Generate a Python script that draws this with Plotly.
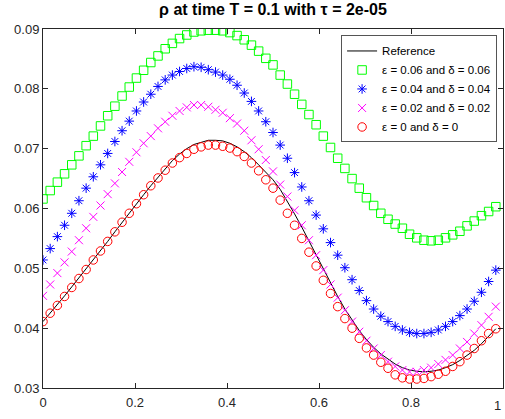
import plotly.graph_objects as go

N = 64
x_grid = [k / N for k in range(N)]

reference = [
    0.0411, 0.0425, 0.0439, 0.0454, 0.0469, 0.0484, 0.0499, 0.0514,
    0.0530, 0.0545, 0.0561, 0.0577, 0.0592, 0.0608, 0.0623, 0.0638,
    0.0652, 0.0667, 0.0680, 0.0691, 0.0700, 0.0707, 0.0711, 0.0714,
    0.0714, 0.0713, 0.0709, 0.0703, 0.0695, 0.0685, 0.0673, 0.0660,
    0.0648, 0.0632, 0.0612, 0.0591, 0.0569, 0.0546, 0.0522, 0.0498,
    0.0475, 0.0453, 0.0432, 0.0413, 0.0396, 0.0381, 0.0368, 0.0357,
    0.0348, 0.0340, 0.0334, 0.0330, 0.0328, 0.0327, 0.0328, 0.0330,
    0.0334, 0.0339, 0.0346, 0.0354, 0.0363, 0.0374, 0.0386, 0.0399,
]

eps_006 = [
    0.0616, 0.0630, 0.0644, 0.0658, 0.0673, 0.0688, 0.0705, 0.0721,
    0.0738, 0.0755, 0.0771, 0.0788, 0.0803, 0.0818, 0.0831, 0.0844,
    0.0855, 0.0867, 0.0876, 0.0884, 0.0890, 0.0895, 0.0897, 0.0898,
    0.0898, 0.0897, 0.0894, 0.0889, 0.0882, 0.0873, 0.0863, 0.0851,
    0.0840, 0.0823, 0.0808, 0.0791, 0.0774, 0.0757, 0.0740, 0.0721,
    0.0702, 0.0684, 0.0667, 0.0650, 0.0634, 0.0618, 0.0605, 0.0592,
    0.0582, 0.0574, 0.0567, 0.0557, 0.0551, 0.0547, 0.0546, 0.0547,
    0.0551, 0.0556, 0.0562, 0.0571, 0.0579, 0.0588, 0.0595, 0.0603,
]

eps_004 = [
    0.0514, 0.0533, 0.0553, 0.0572, 0.0592, 0.0613, 0.0634, 0.0653,
    0.0673, 0.0692, 0.0712, 0.0730, 0.0746, 0.0763, 0.0778, 0.0791,
    0.0804, 0.0815, 0.0823, 0.0829, 0.0834, 0.0837, 0.0836, 0.0832,
    0.0828, 0.0823, 0.0816, 0.0806, 0.0793, 0.0779, 0.0763, 0.0745,
    0.0727, 0.0706, 0.0684, 0.0660, 0.0636, 0.0613, 0.0589, 0.0566,
    0.0543, 0.0522, 0.0501, 0.0481, 0.0463, 0.0446, 0.0432, 0.0420,
    0.0411, 0.0403, 0.0397, 0.0393, 0.0391, 0.0391, 0.0393, 0.0397,
    0.0403, 0.0411, 0.0421, 0.0432, 0.0445, 0.0460, 0.0478, 0.0497,
]

eps_002 = [
    0.0454, 0.0473, 0.0492, 0.0510, 0.0528, 0.0547, 0.0567, 0.0586,
    0.0605, 0.0624, 0.0642, 0.0661, 0.0678, 0.0694, 0.0709, 0.0721,
    0.0734, 0.0745, 0.0755, 0.0763, 0.0769, 0.0773, 0.0773, 0.0770,
    0.0765, 0.0760, 0.0751, 0.0742, 0.0730, 0.0714, 0.0699, 0.0681,
    0.0662, 0.0640, 0.0620, 0.0597, 0.0572, 0.0547, 0.0522, 0.0497,
    0.0473, 0.0451, 0.0430, 0.0411, 0.0394, 0.0379, 0.0366, 0.0355,
    0.0344, 0.0336, 0.0330, 0.0327, 0.0327, 0.0330, 0.0334, 0.0340,
    0.0347, 0.0355, 0.0366, 0.0377, 0.0391, 0.0405, 0.0419, 0.0436,
]

eps_000 = [
    0.0411, 0.0425, 0.0438, 0.0453, 0.0468, 0.0483, 0.0498, 0.0514,
    0.0529, 0.0545, 0.0561, 0.0577, 0.0592, 0.0608, 0.0623, 0.0638,
    0.0651, 0.0664, 0.0676, 0.0685, 0.0692, 0.0699, 0.0703, 0.0706,
    0.0706, 0.0704, 0.0701, 0.0695, 0.0687, 0.0676, 0.0663, 0.0648,
    0.0634, 0.0614, 0.0592, 0.0572, 0.0550, 0.0527, 0.0504, 0.0480,
    0.0458, 0.0436, 0.0416, 0.0400, 0.0383, 0.0367, 0.0355, 0.0343,
    0.0333, 0.0322, 0.0317, 0.0315, 0.0315, 0.0316, 0.0319, 0.0323,
    0.0328, 0.0336, 0.0344, 0.0355, 0.0366, 0.0379, 0.0391, 0.0399,
]

x_ticks = [0, 0.2, 0.4, 0.6, 0.8, 1]
x_tick_labels = ["0", "0.2", "0.4", "0.6", "0.8", "1"]
y_ticks = [0.03, 0.04, 0.05, 0.06, 0.07, 0.08, 0.09]
y_tick_labels = ["0.03", "0.04", "0.05", "0.06", "0.07", "0.08", "0.09"]

FONT = "Liberation Sans, Arial, Helvetica, sans-serif"
AX = "#262626"

fig = go.Figure()
fig.add_trace(go.Scatter(x=x_grid, y=reference, mode="lines", name="Reference",
                         line=dict(color="#000000", width=1)))
fig.add_trace(go.Scatter(x=x_grid, y=eps_006, mode="markers", name="ε = 0.06 and δ = 0.06",
                         marker=dict(symbol="square-open", size=8.5, color="#00ff00",
                                     line=dict(width=1, color="#00ff00"))))
fig.add_trace(go.Scatter(x=x_grid, y=eps_004, mode="markers", name="ε = 0.04 and δ = 0.04",
                         marker=dict(symbol="asterisk-open", size=8, color="#0000ff",
                                     line=dict(width=1, color="#0000ff"))))
fig.add_trace(go.Scatter(x=x_grid, y=eps_002, mode="markers", name="ε = 0.02 and δ = 0.02",
                         marker=dict(symbol="x-thin-open", size=8, color="#ff00ff",
                                     line=dict(width=1, color="#ff00ff"))))
fig.add_trace(go.Scatter(x=x_grid, y=eps_000, mode="markers", name="ε = 0 and δ = 0",
                         marker=dict(symbol="circle-open", size=8.5, color="#ff0000",
                                     line=dict(width=1, color="#ff0000"))))

# the last x tick label would overflow the page edge; draw it right-aligned at the axis end
fig.add_annotation(text=x_tick_labels[-1], x=1, xref="paper", xanchor="right",
                   y=0, yref="paper", yanchor="middle", yshift=-17, xshift=0,
                   showarrow=False, font=dict(family=FONT, size=13, color=AX))

fig.update_layout(
    width=505, height=419,
    margin=dict(l=43, r=2, t=29, b=31, autoexpand=False),
    paper_bgcolor="white", plot_bgcolor="white",
    font=dict(family=FONT, size=12, color=AX),
    title=dict(text="<b>ρ at time T = 0.1 with τ = 2e-05</b>", x=0.5, xref="paper",
               xanchor="center", y=1 - 9 / 419, yref="container", yanchor="middle",
               font=dict(family=FONT, size=16, color="#000000")),
    showlegend=True,
    legend=dict(x=0.648, xanchor="left", y=0.982, yanchor="top",
                bgcolor="white", bordercolor="#555555", borderwidth=1,
                font=dict(family=FONT, size=11.5, color="#000000"),
                tracegroupgap=0),
)
fig.update_xaxes(range=[0, 1], tickvals=x_ticks[:-1], ticktext=x_tick_labels[:-1],
                 showgrid=False, zeroline=False, showline=True, linecolor=AX, linewidth=1,
                 mirror="ticks", ticks="inside", ticklen=5, tickcolor=AX,
                 ticklabelstandoff=2,
                 tickfont=dict(family=FONT, size=13, color=AX))
fig.update_yaxes(range=[0.03, 0.09], tickvals=y_ticks, ticktext=y_tick_labels,
                 showgrid=False, zeroline=False, showline=True, linecolor=AX, linewidth=1,
                 mirror="ticks", ticks="inside", ticklen=5, tickcolor=AX,
                 tickfont=dict(family=FONT, size=13, color=AX))

fig.write_html("out.html", config={"displayModeBar": False},
               post_script="document.body.style.margin='0';document.body.style.overflow='hidden';")
